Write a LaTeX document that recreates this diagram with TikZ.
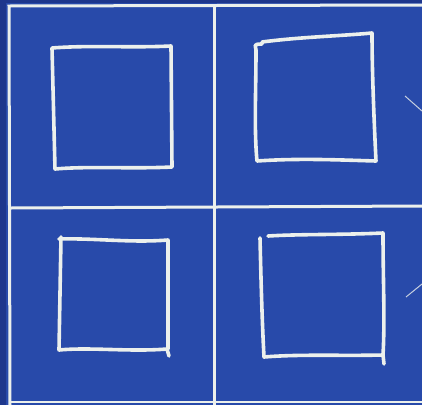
\documentclass[tikz,border=0pt]{standalone}
\definecolor{bgblue}{RGB}{40,74,170}
\definecolor{edgeblue}{RGB}{30,55,140}
\definecolor{chalk}{RGB}{236,240,236}
\tikzset{
  grid/.style={draw=chalk, line width=3pt},
  sketch/.style={draw=chalk, line width=3.6pt, line cap=round, line join=round},
  tick/.style={draw=chalk!80!bgblue, line width=1pt}
}
\begin{document}
\begin{tikzpicture}[x=1pt,y=-1pt]
\useasboundingbox (0,0) rectangle (422,405);
\fill[bgblue] (0,0) rectangle (422,405);
\fill[edgeblue] (0,0) rectangle (422,3);
\fill[edgeblue] (0,0) rectangle (6,405);
% frame and dividers
\coordinate (tl) at (9,6);
\coordinate (tr) at (422,5);
\coordinate (bl) at (10,405);
\coordinate (mt) at (214,5);
\coordinate (mb) at (214,405);
\coordinate (ml) at (10,208);
\coordinate (mr) at (422,206);
\coordinate (bbl) at (10,402);
\coordinate (bbr) at (422,402);
\draw[grid] (tr) -- (tl) -- (bl);
\draw[grid] (mt) -- (mb);
\draw[grid] (ml) -- (mr);
\draw[grid, line width=2pt] (bbl) -- (bbr);
% square 1 (top left)
\draw[sketch] (52,48) .. controls (90,45) and (130,48) .. (171,46)
  -- (172,167) .. controls (130,169) and (90,166) .. (55,169) -- (52,48);
% square 2 (top right)
\draw[sketch] (262,44) .. controls (252,44) and (256,46) .. (256,50)
  .. controls (256,90) and (254,130) .. (257,161)
  .. controls (300,158) and (340,160) .. (376,161)
  .. controls (374,120) and (372,70) .. (372,33)
  .. controls (340,36) and (300,37) .. (262,42);
% square 3 (bottom left)
\draw[sketch] (61,237) -- (59,350) .. controls (90,347) and (130,352) .. (167,349)
  -- (169,356);
\draw[sketch] (59,239) .. controls (95,238) and (130,243) .. (168,240) -- (168,349);
% square 4 (bottom right)
\draw[sketch] (260,238) .. controls (261,280) and (262,320) .. (264,357)
  .. controls (300,354) and (340,356) .. (383,355) -- (384,364);
\draw[sketch] (268,236) .. controls (300,234) and (340,235) .. (383,233)
  .. controls (383,280) and (385,320) .. (383,355);
% edge ticks
\coordinate (t1a) at (405,96);
\coordinate (t1b) at (422,111);
\coordinate (t2a) at (406,297);
\coordinate (t2b) at (422,284);
\draw[tick] (t1a) -- (t1b);
\draw[tick] (t2a) -- (t2b);
\end{tikzpicture}
\end{document}
